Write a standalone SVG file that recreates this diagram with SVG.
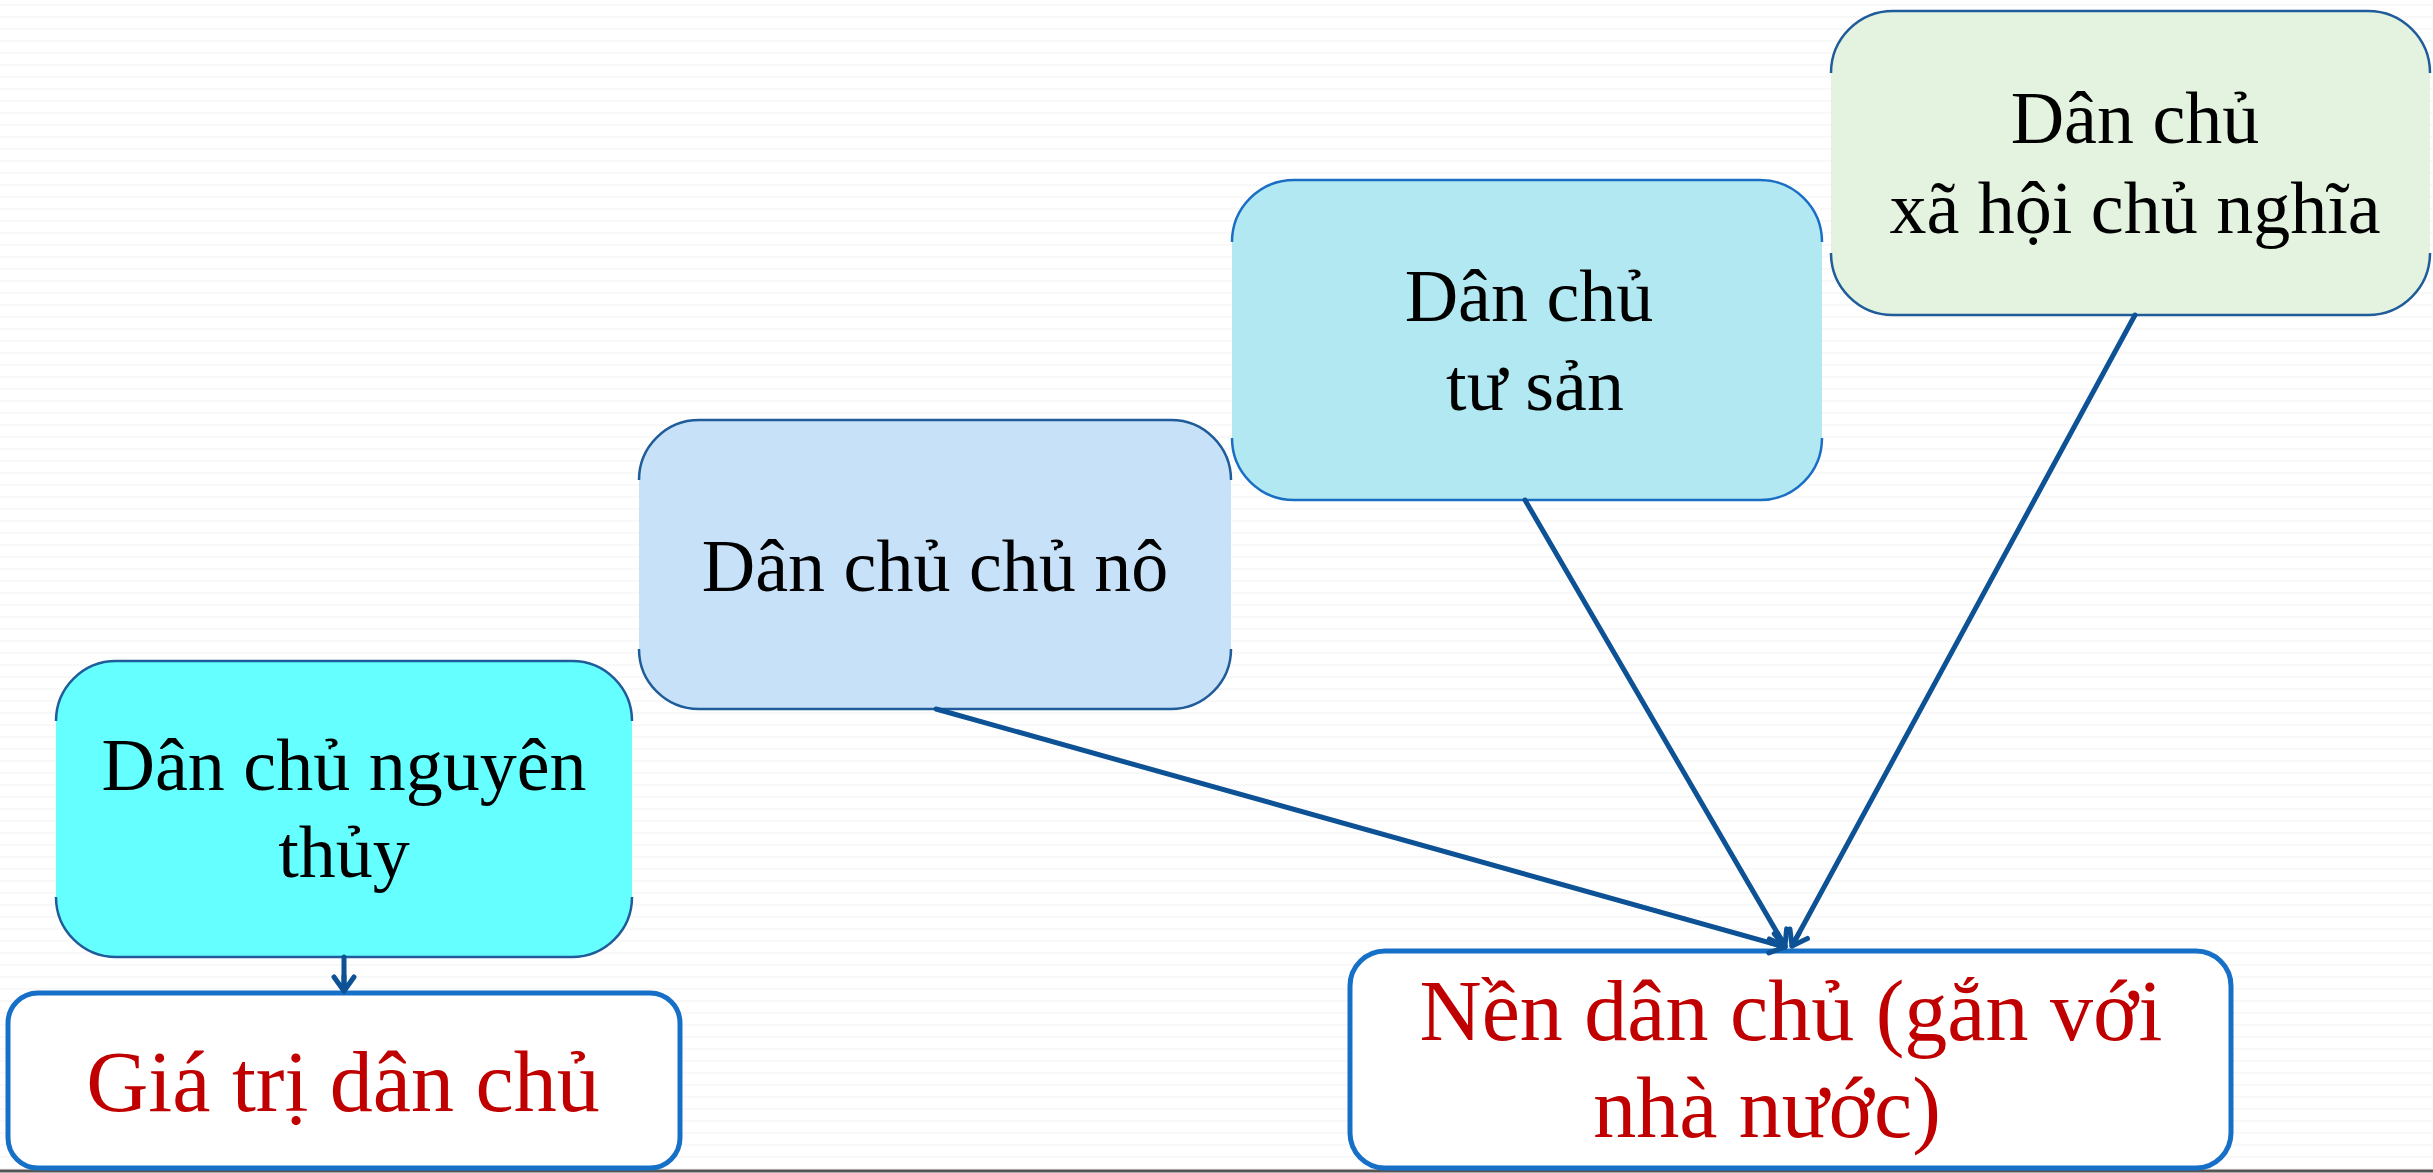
<svg xmlns="http://www.w3.org/2000/svg" width="2433" height="1173" viewBox="0 0 2433 1173">
<style>
.t{font-family:"Liberation Serif","Times New Roman",serif;font-size:74px;fill:#000;text-anchor:middle}
.r{font-family:"Liberation Serif","Times New Roman",serif;font-size:86px;fill:#C00000;text-anchor:middle}
.edge{fill:none;stroke:#1F5C99;stroke-width:2.5}
.res{fill:#FFFFFF;stroke:#1770C8;stroke-width:5}
.con{fill:none;stroke:#0E5296;stroke-width:5;stroke-linecap:round}
</style>
<defs>
<pattern id="bg" width="8" height="12" patternUnits="userSpaceOnUse">
<path d="M0,6 L2,4 L4,6 L6,4 L8,6" fill="none" stroke="#F2F2F2" stroke-width="1"/>
</pattern>
<marker id="arr" viewBox="-18 -13 22 26" refX="0" refY="0" markerWidth="22" markerHeight="26" markerUnits="userSpaceOnUse" orient="auto">
<path d="M-14,-10 L0,0 L-14,10 M0,0 L-15,0" fill="none" stroke="#0E5296" stroke-width="5" stroke-linecap="round" stroke-linejoin="round"/>
</marker>
</defs>
<rect width="2433" height="1173" fill="#FFFFFF"/>
<rect width="2433" height="1173" fill="url(#bg)"/>
<line x1="0" y1="1171" x2="2433" y2="1171" stroke="#555555" stroke-width="3"/>

<g id="node-nguyen-thuy">
<rect x="56" y="661" width="576" height="296" rx="60" fill="#66FFFF"/>
<path class="edge" d="M56,721 A60,60 0 0 1 116,661 L572,661 A60,60 0 0 1 632,721 M56,897 A60,60 0 0 0 116,957 L572,957 A60,60 0 0 0 632,897"/>
<text class="t" x="344" y="790">Dân chủ nguyên</text>
<text class="t" x="344" y="877">thủy</text>
</g>

<g id="node-chu-no">
<rect x="639" y="420" width="592" height="289" rx="60" fill="#C7E1F9"/>
<path class="edge" d="M639,480 A60,60 0 0 1 699,420 L1171,420 A60,60 0 0 1 1231,480 M639,649 A60,60 0 0 0 699,709 L1171,709 A60,60 0 0 0 1231,649"/>
<text class="t" x="935" y="591">Dân chủ chủ nô</text>
</g>

<g id="node-tu-san">
<rect x="1232" y="180" width="590" height="320" rx="62" fill="#B2E8F1"/>
<path class="edge" style="stroke:#1A6FC4" d="M1232,242 A62,62 0 0 1 1294,180 L1760,180 A62,62 0 0 1 1822,242 M1232,438 A62,62 0 0 0 1294,500 L1760,500 A62,62 0 0 0 1822,438"/>
<text class="t" x="1529" y="321">Dân chủ</text>
<text class="t" x="1535" y="410">tư sản</text>
</g>

<g id="node-xhcn">
<rect x="1831" y="11" width="599" height="304" rx="62" fill="#E3F3E0"/>
<path class="edge" d="M1831,73 A62,62 0 0 1 1893,11 L2368,11 A62,62 0 0 1 2430,73 M1831,253 A62,62 0 0 0 1893,315 L2368,315 A62,62 0 0 0 2430,253"/>
<text class="t" x="2135" y="143">Dân chủ</text>
<text class="t" x="2135" y="233">xã hội chủ nghĩa</text>
</g>

<g id="node-gia-tri">
<rect class="res" x="8" y="993" width="672" height="175" rx="30"/>
<text class="r" x="343" y="1111">Giá trị dân chủ</text>
</g>

<g id="node-nen-dan-chu">
<rect class="res" x="1350" y="951" width="881" height="217" rx="35"/>
<text class="r" x="1791" y="1040">Nền dân chủ (gắn với</text>
<text class="r" x="1767" y="1137">nhà nước)</text>
</g>

<g id="connectors">
<line class="con" x1="344" y1="957" x2="344" y2="991" marker-end="url(#arr)"/>
<line class="con" x1="936" y1="709" x2="1785" y2="947" marker-end="url(#arr)"/>
<line class="con" x1="1525" y1="500" x2="1785" y2="946" marker-end="url(#arr)"/>
<line class="con" x1="2135" y1="315" x2="1792" y2="946" marker-end="url(#arr)"/>
</g>
</svg>
